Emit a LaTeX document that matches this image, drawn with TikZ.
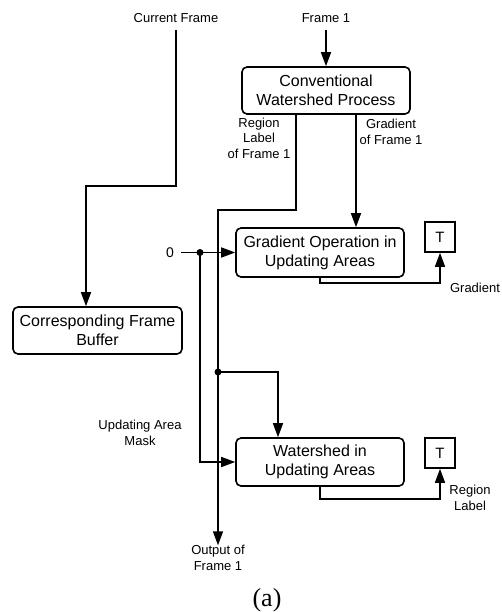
\documentclass[tikz,border=0pt]{standalone}
\usepackage{fontspec}
\setmainfont{Liberation Sans}
\newfontfamily\capfont{Liberation Serif}
\usetikzlibrary{arrows.meta}
\begin{document}
\begin{tikzpicture}[x=1pt,y=-1pt,
  box/.style={draw,line width=1.6pt,rounded corners=5pt,minimum width=168pt,minimum height=48pt,align=center,inner sep=0pt,font=\fontsize{16}{19}\selectfont},
  tbox/.style={draw,line width=1.6pt,minimum width=30pt,minimum height=30pt,inner sep=0pt,font=\fontsize{15}{18}\selectfont},
  lbl/.style={align=center,inner sep=0pt,font=\fontsize{13}{15.5}\selectfont},
  wire/.style={line width=1.6pt},
  arr/.style={wire,-{Triangle[length=14pt,width=10pt]}}]
\useasboundingbox (0,0) rectangle (502,612);
\node[lbl] (ncf) at (176,18) {Current Frame};
\node[lbl] (nf1) at (326,18) {Frame 1};
\node[box,minimum height=47pt] (cwp) at (326,90.5) {Conventional\\Watershed Process};
\node[box,minimum height=49pt] (go) at (320,252.5) {Gradient Operation in\\Updating Areas};
\node[box] (ws) at (320,462) {Watershed in\\Updating Areas};
\node[box,minimum width=169pt,minimum height=47pt] (cfb) at (97.5,330.5) {Corresponding Frame\\Buffer};
\node[tbox] (t1) at (440,237) {T};
\node[tbox] (t2) at (440,453) {T};
\node[lbl] (rlab) at (259,138) {Region\\Label\\of Frame 1};
\node[lbl] (glab) at (391,132) {Gradient\\of Frame 1};
\node[lbl,font=\fontsize{14}{16}\selectfont] (zero) at (170,252.5) {0};
\node[lbl] (uam) at (140,433) {Updating Area\\Mask};
\node[lbl] (out) at (218,558) {Output of\\Frame 1};
\node[lbl] (gout) at (475,288) {Gradient};
\node[lbl] (rout) at (470,498) {Region\\Label};
\node[inner sep=0pt,font=\capfont\fontsize{26}{30}\selectfont] (cap) at (267,600) {(a)};
\coordinate (cfa) at (86,186);
\coordinate (rl) at (218,210);
\coordinate (d1) at (200,252.5);
\coordinate (d2) at (218,372);
\draw[arr] ([yshift=-7pt]ncf.south) |- (cfa) -- (cfa |- cfb.north);
\draw[arr] ([yshift=-7pt]nf1.south) -- (cwp.north);
\draw[arr] ([xshift=-30pt]cwp.south) |- (rl) -- (rl |- out.north);
\draw[arr] ([xshift=30pt]cwp.south) -- ([xshift=30pt]cwp.south |- go.north);
\draw[arr] ([xshift=7pt]zero.east) -- (go.west);
\draw[arr] (d1) |- (ws.west);
\draw[arr] (d2) -| ([xshift=-42pt]ws.north);
\draw[arr] (go.south) -- ++(0,5) -| (t1.south);
\draw[arr] (ws.south) -- ++(0,12) -| (t2.south);
\fill (d1) circle (3.5pt);
\fill (d2) circle (3.5pt);
\end{tikzpicture}
\end{document}
